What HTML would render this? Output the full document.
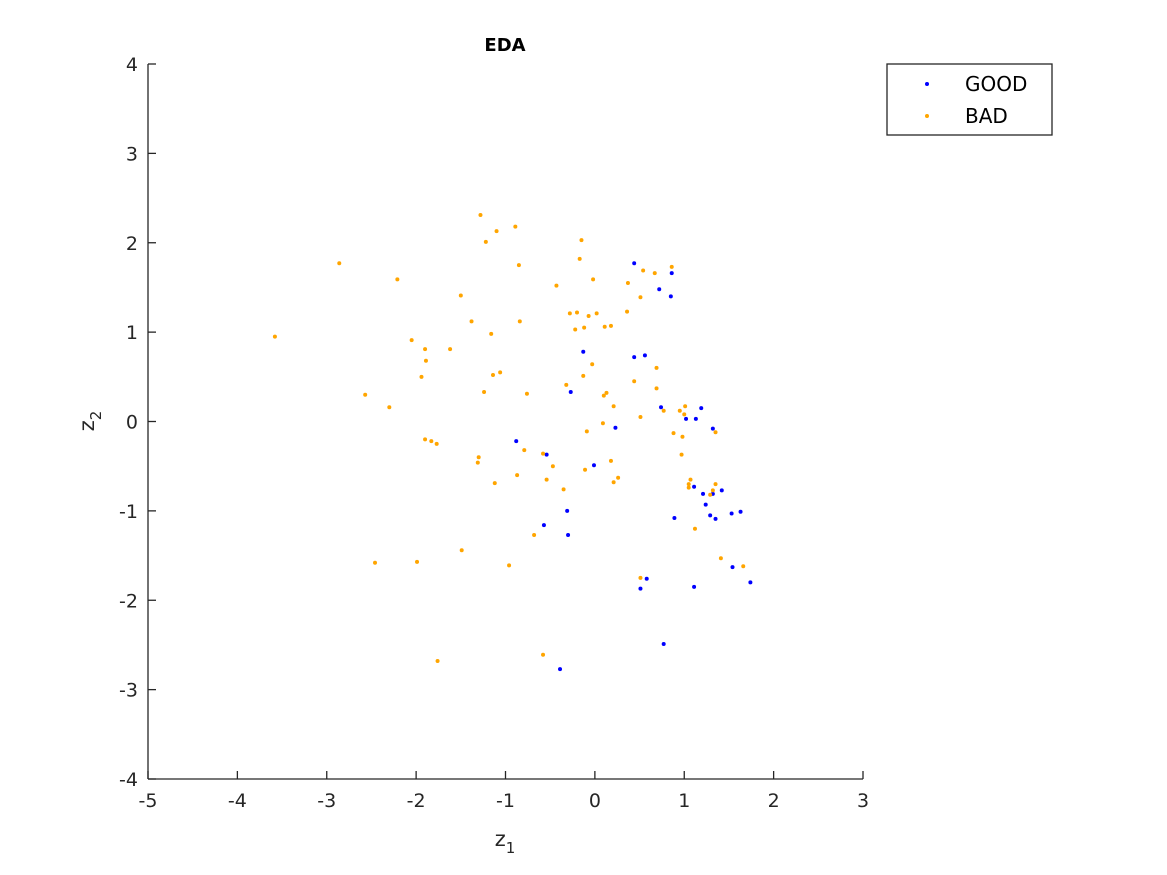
<!DOCTYPE html>
<html><head><meta charset="utf-8"><style>
body{margin:0;background:#fff;}
svg{display:block;font-family:"DejaVu Sans","Liberation Sans",sans-serif;}
</style></head><body>
<svg id="chart" width="1167" height="875">
<rect width="1167" height="875" fill="#fff"/>
<text x="505" y="51" text-anchor="middle" font-size="18" font-weight="bold" fill="#000">EDA</text>
<g id="axes"></g>
<g id="marks"></g>
<text x="505" y="846" text-anchor="middle" font-size="21" fill="#262626">z<tspan font-size="15" dy="7">1</tspan></text>
<text transform="translate(94,421) rotate(-90)" text-anchor="middle" font-size="21" fill="#262626">z<tspan font-size="15" dy="7">2</tspan></text>
<g>
<rect x="887" y="64" width="165" height="71" fill="#fff" stroke="#262626" stroke-width="1.3"/>
<circle cx="927" cy="84" r="2" fill="#0000ff"/>
<text x="965" y="91" font-size="20" fill="#000">GOOD</text>
<circle cx="927" cy="116" r="2" fill="#ffa500"/>
<text x="965" y="123" font-size="20" fill="#000">BAD</text>
</g>
</svg>
<script>
const xTicks=[-5,-4,-3,-2,-1,0,1,2,3];
const yTicks=[-4,-3,-2,-1,0,1,2,3,4];
const badX=[-3.58,-2.86,-2.21,-2.57,-2.30,-2.05,-1.90,-1.89,-1.94,-1.90,-1.83,-1.77,-1.62,-1.50,-1.38,-1.28,-1.22,-1.10,-0.89,-1.16,-1.14,-1.06,-1.24,-1.30,-1.31,-1.12,-0.85,-0.84,-0.76,-0.79,-0.87,-0.58,-0.54,-0.47,-0.68,-0.43,-0.28,-0.20,-0.22,-0.12,-0.15,-0.17,-0.32,-0.13,-0.09,-0.11,-0.35,-0.07,0.02,-0.02,-0.03,0.10,0.13,0.09,0.11,0.18,0.21,0.18,0.21,0.26,0.36,0.37,0.44,0.51,0.54,0.51,0.51,0.67,0.86,0.69,0.69,0.77,0.88,0.95,1.01,0.98,0.97,1.05,1.07,1.05,1.12,1.29,1.32,1.35,1.35,1.41,1.66,1.00,-1.99,-2.46,-1.49,-0.96,-0.58,-1.76];
const badY=[0.95,1.77,1.59,0.30,0.16,0.91,0.81,0.68,0.50,-0.20,-0.22,-0.25,0.81,1.41,1.12,2.31,2.01,2.13,2.18,0.98,0.52,0.55,0.33,-0.40,-0.46,-0.69,1.75,1.12,0.31,-0.32,-0.60,-0.36,-0.65,-0.50,-1.27,1.52,1.21,1.22,1.03,1.05,2.03,1.82,0.41,0.51,-0.11,-0.54,-0.76,1.18,1.21,1.59,0.64,0.29,0.32,-0.02,1.06,1.07,0.17,-0.44,-0.68,-0.63,1.23,1.55,0.45,1.39,1.69,0.05,-1.75,1.66,1.73,0.60,0.37,0.12,-0.13,0.12,0.17,-0.17,-0.37,-0.70,-0.65,-0.74,-1.20,-0.82,-0.77,-0.70,-0.12,-1.53,-1.62,0.08,-1.57,-1.58,-1.44,-1.61,-2.61,-2.68];
const goodX=[0.44,0.86,0.72,0.85,-0.13,0.44,0.56,-0.27,0.74,1.19,1.02,1.13,1.32,0.23,-0.88,-0.54,-0.01,1.11,1.21,1.32,1.42,1.24,1.29,1.35,0.89,1.53,1.63,-0.31,-0.57,-0.30,0.58,0.51,1.11,1.54,1.74,0.77,-0.39];
const goodY=[1.77,1.66,1.48,1.40,0.78,0.72,0.74,0.33,0.16,0.15,0.03,0.03,-0.08,-0.07,-0.22,-0.37,-0.49,-0.73,-0.81,-0.81,-0.77,-0.93,-1.05,-1.09,-1.08,-1.03,-1.01,-1.00,-1.16,-1.27,-1.76,-1.87,-1.85,-1.63,-1.80,-2.49,-2.77];
const NS='http://www.w3.org/2000/svg';
const X0=148,X1=863,Y0=779,Y1=64;
const sx=v=>X0+(v+5)/8*(X1-X0);
const sy=v=>Y0-(v+4)/8*(Y0-Y1);
const axes=document.getElementById('axes'),marks=document.getElementById('marks');
function mk(tag,attrs,parent){const e=document.createElementNS(NS,tag);for(const k in attrs)e.setAttribute(k,attrs[k]);parent.appendChild(e);return e;}
let l=mk('line',{x1:X0,y1:Y0,x2:X1,y2:Y0,stroke:'#262626','stroke-width':1.3},axes);


l=mk('line',{x1:X0,y1:Y0,x2:X0,y2:Y1,stroke:'#262626','stroke-width':1.3},axes);


xTicks.forEach(t=>{const x=sx(t);
 const tk=mk('line',{x1:x,y1:Y0,x2:x,y2:Y0-8,stroke:'#262626','stroke-width':1.3},axes);
 
 
 const tx=mk('text',{x:x,y:Y0+28,'text-anchor':'middle','font-size':19,fill:'#262626'},axes);
 tx.textContent=String(t);
 
 });
yTicks.forEach(t=>{const y=sy(t);
 const tk=mk('line',{x1:X0,y1:y,x2:X0+8,y2:y,stroke:'#262626','stroke-width':1.3},axes);
 
 
 const tx=mk('text',{x:X0-10,y:y+7,'text-anchor':'end','font-size':19,fill:'#262626'},axes);
 tx.textContent=String(t);
 
 });
goodX.forEach((v,i)=>{const c=mk('circle',{cx:sx(v),cy:sy(goodY[i]),r:2,fill:'#0000ff'},marks);
 
 });
badX.forEach((v,i)=>{const c=mk('circle',{cx:sx(v),cy:sy(badY[i]),r:2,fill:'#ffa500'},marks);
 
 });
</script>
</body></html>
